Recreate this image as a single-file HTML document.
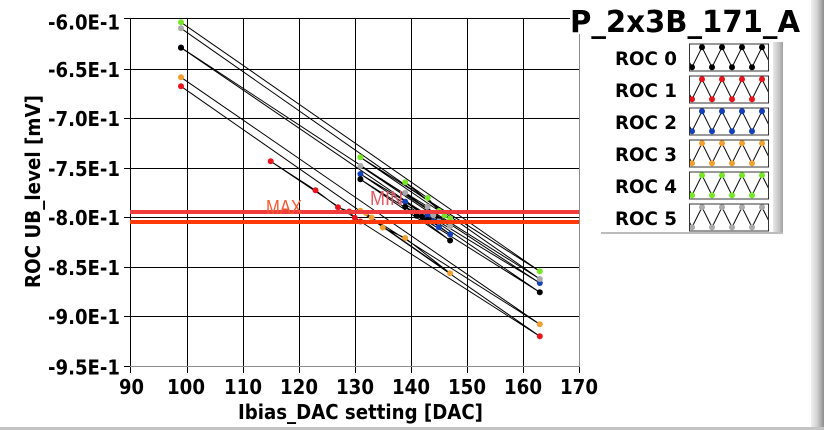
<!DOCTYPE html>
<html><head><meta charset="utf-8"><style>
html,body{margin:0;padding:0;background:#fff;}
svg{display:block;}
.b{font-family:"DejaVu Sans","Liberation Sans",sans-serif;font-weight:bold;fill:#000;}
</style></head><body>
<svg width="824" height="430" viewBox="0 0 824 430" xmlns="http://www.w3.org/2000/svg">
<defs>
<linearGradient id="rb" x1="0" x2="1" y1="0" y2="0">
<stop offset="0" stop-color="#f0f0f0"/><stop offset="0.45" stop-color="#d4d4d4"/><stop offset="0.8" stop-color="#a8a8a8"/><stop offset="1" stop-color="#8c8c8c"/>
</linearGradient>
<linearGradient id="ls" x1="0" x2="1" y1="0" y2="0">
<stop offset="0" stop-color="#e8e8e8"/><stop offset="0.6" stop-color="#c4c4c4"/><stop offset="1" stop-color="#a0a0a0"/>
</linearGradient>
</defs>
<rect width="824" height="430" fill="#fff"/>
<!-- right bar & bottom line -->
<rect x="811" y="0" width="13" height="430" fill="url(#rb)"/>
<rect x="0" y="427" width="824" height="3" fill="#c4c4c4"/>

<!-- grid -->
<g stroke="#000" stroke-width="1">
<line x1="187.5" y1="18" x2="187.5" y2="367"/>
<line x1="243.5" y1="18" x2="243.5" y2="367"/>
<line x1="299.5" y1="18" x2="299.5" y2="367"/>
<line x1="355.5" y1="18" x2="355.5" y2="367"/>
<line x1="411.5" y1="18" x2="411.5" y2="367"/>
<line x1="467.5" y1="18" x2="467.5" y2="367"/>
<line x1="523.5" y1="18" x2="523.5" y2="367"/>
<line x1="130" y1="69.5" x2="579" y2="69.5"/>
<line x1="130" y1="118.5" x2="579" y2="118.5"/>
<line x1="130" y1="168.5" x2="579" y2="168.5"/>
<line x1="130" y1="217.5" x2="579" y2="217.5"/>
<line x1="130" y1="267.5" x2="579" y2="267.5"/>
<line x1="130" y1="316.5" x2="579" y2="316.5"/>
<!-- y ticks -->
<line x1="124" y1="18.5" x2="130" y2="18.5"/>
<line x1="124" y1="69.5" x2="130" y2="69.5"/>
<line x1="124" y1="118.5" x2="130" y2="118.5"/>
<line x1="124" y1="168.5" x2="130" y2="168.5"/>
<line x1="124" y1="217.5" x2="130" y2="217.5"/>
<line x1="124" y1="267.5" x2="130" y2="267.5"/>
<line x1="124" y1="316.5" x2="130" y2="316.5"/>
<line x1="124" y1="366.5" x2="130" y2="366.5"/>
<!-- x ticks -->
<line x1="130.5" y1="367" x2="130.5" y2="373"/>
<line x1="187.5" y1="367" x2="187.5" y2="373"/>
<line x1="243.5" y1="367" x2="243.5" y2="373"/>
<line x1="299.5" y1="367" x2="299.5" y2="373"/>
<line x1="355.5" y1="367" x2="355.5" y2="373"/>
<line x1="411.5" y1="367" x2="411.5" y2="373"/>
<line x1="467.5" y1="367" x2="467.5" y2="373"/>
<line x1="523.5" y1="367" x2="523.5" y2="373"/>
<line x1="579.5" y1="367" x2="579.5" y2="373"/>
</g>
<!-- frame -->
<line x1="130" y1="18.5" x2="580" y2="18.5" stroke="#000"/>
<line x1="130.5" y1="18" x2="130.5" y2="367" stroke="#000"/>
<line x1="579.5" y1="18" x2="579.5" y2="367" stroke="#8c8c8c"/>
<line x1="130" y1="366.5" x2="580" y2="366.5" stroke="#8c8c8c"/>

<!-- series lines -->
<g fill="none" stroke="#000" stroke-width="1">
<polyline points="181,47.7 539.8,292.3 360.4,179.3 450.1,240.5 405.2,206.7 427.7,220 416.5,215.8 422.1,217"/>
<polyline points="181,86.3 539.8,336.3 360.4,221.5 270.7,161.3 315.5,190.3 338,207.3 349.2,211.5 354.8,217.7"/>
<polyline points="181,47.5 539.8,283 360.4,174 450.1,234.2 405.2,201.7 427.7,215.7 438.9,227.3 433.3,221.5"/>
<polyline points="181,77.3 539.8,324.3 360.4,210.7 450.1,273.3 405.2,238 382.8,227.5 371.6,217.5 366,213"/>
<polyline points="181,22.3 539.8,271.3 360.4,157.3 450.1,218.5 405.2,182.3 427.7,198 438.9,211 444.5,215.5"/>
<polyline points="181,28.3 539.8,279 360.4,166 450.1,226.3 405.2,192.7 427.7,206.7 438.9,221.5 433.3,215.3"/>
</g>
<!-- markers -->
<g fill="#1440b8">
<circle cx="181" cy="47.5" r="3"/><circle cx="539.8" cy="283" r="3"/><circle cx="360.4" cy="174" r="3"/><circle cx="450.1" cy="234.2" r="3"/><circle cx="405.2" cy="201.7" r="3"/><circle cx="427.7" cy="215.7" r="3"/><circle cx="438.9" cy="227.3" r="3"/><circle cx="433.3" cy="221.5" r="3"/>
</g>
<g fill="#000">
<circle cx="181" cy="47.7" r="3"/><circle cx="539.8" cy="292.3" r="3"/><circle cx="360.4" cy="179.3" r="3"/><circle cx="450.1" cy="240.5" r="3"/><circle cx="405.2" cy="206.7" r="3"/><circle cx="427.7" cy="220" r="3"/><circle cx="416.5" cy="215.8" r="3"/><circle cx="422.1" cy="217" r="3"/>
</g>
<g fill="#e8141c">
<circle cx="181" cy="86.3" r="3"/><circle cx="539.8" cy="336.3" r="3"/><circle cx="360.4" cy="221.5" r="3"/><circle cx="270.7" cy="161.3" r="3"/><circle cx="315.5" cy="190.3" r="3"/><circle cx="338" cy="207.3" r="3"/><circle cx="349.2" cy="211.5" r="3"/><circle cx="354.8" cy="217.7" r="3"/>
</g>
<g fill="#f0a030">
<circle cx="181" cy="77.3" r="3"/><circle cx="539.8" cy="324.3" r="3"/><circle cx="360.4" cy="210.7" r="3"/><circle cx="450.1" cy="273.3" r="3"/><circle cx="405.2" cy="238" r="3"/><circle cx="382.8" cy="227.5" r="3"/><circle cx="371.6" cy="217.5" r="3"/><circle cx="366" cy="213" r="3"/>
</g>
<g fill="#78e628">
<circle cx="181" cy="22.3" r="3"/><circle cx="539.8" cy="271.3" r="3"/><circle cx="360.4" cy="157.3" r="3"/><circle cx="450.1" cy="218.5" r="3"/><circle cx="405.2" cy="182.3" r="3"/><circle cx="427.7" cy="198" r="3"/><circle cx="438.9" cy="211" r="3"/><circle cx="444.5" cy="215.5" r="3"/>
</g>
<g fill="#aaaaaa">
<circle cx="181" cy="28.3" r="3"/><circle cx="539.8" cy="279" r="3"/><circle cx="360.4" cy="166" r="3"/><circle cx="450.1" cy="226.3" r="3"/><circle cx="405.2" cy="192.7" r="3"/><circle cx="427.7" cy="206.7" r="3"/><circle cx="438.9" cy="221.5" r="3"/><circle cx="433.3" cy="215.3" r="3"/>
</g>

<!-- MAX / MIN bands -->
<rect x="130" y="210" width="449" height="4" fill="#f03c3c"/>
<rect x="130" y="220" width="449" height="4" fill="#ff3a08"/>
<text x="266" y="214" font-family="Liberation Sans, sans-serif" font-size="20" fill="#f35a30" textLength="36" lengthAdjust="spacingAndGlyphs">MAX</text>
<text x="370" y="205" font-family="Liberation Sans, sans-serif" font-size="20" fill="#e05a66" textLength="33" lengthAdjust="spacingAndGlyphs">MIN</text>

<!-- y labels -->
<g class="b" font-size="20">
<text x="48" y="29.5" textLength="72" lengthAdjust="spacingAndGlyphs">-6.0E-1</text>
<text x="48" y="77" textLength="72" lengthAdjust="spacingAndGlyphs">-6.5E-1</text>
<text x="48" y="126" textLength="72" lengthAdjust="spacingAndGlyphs">-7.0E-1</text>
<text x="48" y="176" textLength="72" lengthAdjust="spacingAndGlyphs">-7.5E-1</text>
<text x="48" y="225" textLength="72" lengthAdjust="spacingAndGlyphs">-8.0E-1</text>
<text x="48" y="275" textLength="72" lengthAdjust="spacingAndGlyphs">-8.5E-1</text>
<text x="48" y="324" textLength="72" lengthAdjust="spacingAndGlyphs">-9.0E-1</text>
<text x="48" y="374.5" textLength="72" lengthAdjust="spacingAndGlyphs">-9.5E-1</text>
</g>
<!-- x labels -->
<g class="b" font-size="20">
<text x="119" y="394" textLength="25" lengthAdjust="spacingAndGlyphs">90</text>
<text x="167" y="394" textLength="38" lengthAdjust="spacingAndGlyphs">100</text>
<text x="224" y="394" textLength="38" lengthAdjust="spacingAndGlyphs">110</text>
<text x="280" y="394" textLength="38" lengthAdjust="spacingAndGlyphs">120</text>
<text x="336" y="394" textLength="38" lengthAdjust="spacingAndGlyphs">130</text>
<text x="392" y="394" textLength="38" lengthAdjust="spacingAndGlyphs">140</text>
<text x="448" y="394" textLength="38" lengthAdjust="spacingAndGlyphs">150</text>
<text x="504" y="394" textLength="38" lengthAdjust="spacingAndGlyphs">160</text>
<text x="560" y="394" textLength="38" lengthAdjust="spacingAndGlyphs">170</text>
</g>
<text class="b" x="238" y="419" font-size="20" textLength="245" lengthAdjust="spacingAndGlyphs">Ibias_DAC setting [DAC]</text>
<text class="b" transform="translate(40,288) rotate(-90)" x="0" y="0" font-size="20" textLength="193" lengthAdjust="spacingAndGlyphs">ROC UB_level [mV]</text>

<!-- title -->
<rect x="570" y="3" width="238" height="31" fill="#fff"/>
<text class="b" x="570" y="32" font-size="30" textLength="230" lengthAdjust="spacingAndGlyphs">P_2x3B_171_A</text>

<!-- legend -->
<rect x="773" y="42" width="10" height="191" fill="url(#ls)"/>
<rect x="601" y="232" width="182" height="2" fill="#bcbcbc"/>
<g class="b" font-size="19">
<text x="615" y="65" textLength="62" lengthAdjust="spacingAndGlyphs">ROC 0</text>
<text x="615" y="97" textLength="62" lengthAdjust="spacingAndGlyphs">ROC 1</text>
<text x="615" y="129" textLength="62" lengthAdjust="spacingAndGlyphs">ROC 2</text>
<text x="615" y="161" textLength="62" lengthAdjust="spacingAndGlyphs">ROC 3</text>
<text x="615" y="193" textLength="62" lengthAdjust="spacingAndGlyphs">ROC 4</text>
<text x="615" y="225" textLength="62" lengthAdjust="spacingAndGlyphs">ROC 5</text>
</g>
<defs>
<clipPath id="sw"><rect x="690" y="0" width="78" height="26"/></clipPath>
<g id="zz">
<g clip-path="url(#sw)">
<polyline points="682,2.7 692,22.7 702,2.7 712,22.7 722,2.7 732,22.7 742,2.7 752,22.7 762,2.7 772,22.7" fill="none" stroke="#000" stroke-width="1"/>
<circle cx="692" cy="22.7" r="3"/><circle cx="712" cy="22.7" r="3"/><circle cx="732" cy="22.7" r="3"/><circle cx="752" cy="22.7" r="3"/>
<circle cx="702" cy="2.7" r="3"/><circle cx="722" cy="2.7" r="3"/><circle cx="742" cy="2.7" r="3"/><circle cx="762" cy="2.7" r="3"/>
</g>
<rect x="689.5" y="-0.5" width="79" height="27" fill="none" stroke="#333" stroke-width="1"/>
</g>
</defs>
<use href="#zz" transform="translate(0,44.5)" fill="#000"/>
<use href="#zz" transform="translate(0,76.5)" fill="#e8141c"/>
<use href="#zz" transform="translate(0,108.5)" fill="#1440b8"/>
<use href="#zz" transform="translate(0,140.5)" fill="#f0a030"/>
<use href="#zz" transform="translate(0,172.5)" fill="#78e628"/>
<use href="#zz" transform="translate(0,204.5)" fill="#aaaaaa"/>
</svg>
</body></html>
